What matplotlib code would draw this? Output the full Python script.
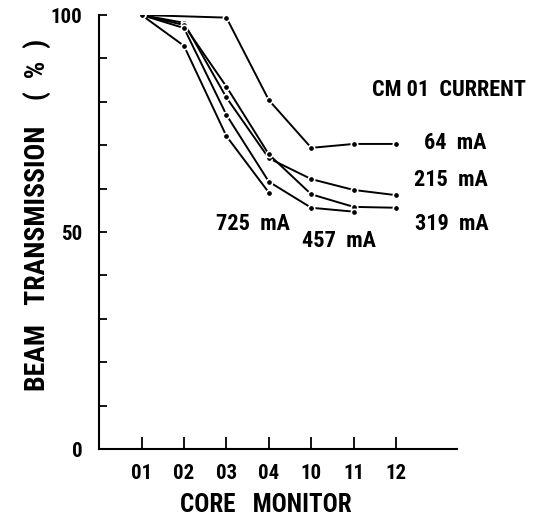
import os
import matplotlib.pyplot as plt
import matplotlib.font_manager as fm
import numpy as np

# the original lettering is a tall condensed bold face: pick the narrowest one installed
prefs = ["notosans-extracondensedbold", "robotocondensed-bold", "opensans-condbold",
         "liberationsansnarrow-bold", "notosans-condensedbold", "dejavusanscondensed-bold"]
files = {os.path.basename(f.fname).lower(): f.fname for f in fm.fontManager.ttflist}
narrow = None
for p in prefs:
    hit = [v for k, v in files.items() if k.startswith(p)]
    if hit:
        narrow = hit[0]
        break


def fp(size):
    if narrow:
        return fm.FontProperties(fname=narrow, size=size)
    return fm.FontProperties(family="DejaVu Sans", weight="bold", size=size * 0.75)


# core monitor stations along the x axis
monitors = ["01", "02", "03", "04", "10", "11", "12"]

# beam transmission (%) for each CM 01 current, None = not measured
t_64 = [100, None, 99.4, 80.4, 69.4, 70.3, 70.3]
t_215 = [100, 98.2, 81.0, 67.0, 62.2, 59.7, 58.5]
t_319 = [100, 97.7, 83.5, 67.9, 58.7, 55.8, 55.6]
t_457 = [100, 97.0, 77.0, 61.6, 55.6, 54.7, None]
t_725 = [100, 92.9, 72.1, 59.1, None, None, None]

series = [("64 mA", t_64), ("215 mA", t_215), ("319 mA", t_319),
          ("457 mA", t_457), ("725 mA", t_725)]

x = np.arange(1, len(monitors) + 1)

fig = plt.figure(figsize=(5.33, 5.18), dpi=100)
ax = fig.add_axes([0.186, 0.133, 0.671, 0.838])

for name, vals in series:
    xs = [xi for xi, v in zip(x, vals) if v is not None]
    ys = [v for v in vals if v is not None]
    ax.plot(xs, ys, color="black", lw=1.4, marker="o", ms=4.6,
            mfc="black", mec="white", mew=1.2, solid_capstyle="butt")

# curve labels
lab = dict(va="center", ha="left")
ax.text(7.65, 70.5, "64  mA", fontproperties=fp(16), **lab)
ax.text(7.42, 62.0, "215  mA", fontproperties=fp(16), **lab)
ax.text(7.44, 51.8, "319  mA", fontproperties=fp(16), **lab)
ax.text(4.77, 47.9, "457  mA", fontproperties=fp(16), **lab)
ax.text(2.75, 51.8, "725  mA", fontproperties=fp(16), **lab)
ax.text(6.42, 82.7, "CM 01  CURRENT", fontproperties=fp(16), **lab)

ax.set_xlim(0, 8.43)
ax.set_ylim(0, 100)
ax.set_xticks(x)
ax.set_xticklabels(monitors)
ax.set_yticks([0, 50, 100])
ax.set_yticks(np.arange(10, 100, 10), minor=True)

ax.spines["top"].set_visible(False)
ax.spines["right"].set_visible(False)
for s in ("left", "bottom"):
    ax.spines[s].set_linewidth(1.5)

ax.tick_params(axis="x", direction="in", length=9, width=1.3, pad=11)
ax.tick_params(axis="y", which="both", direction="in", length=6, width=1.3,
               pad=12)
for lbl in ax.get_xticklabels() + ax.get_yticklabels():
    lbl.set_fontproperties(fp(15))

ax.set_xlabel("CORE   MONITOR", fontproperties=fp(18))
ax.xaxis.set_label_coords(0.466, -0.1)
ax.set_ylabel("BEAM   TRANSMISSION    (  %  )", fontproperties=fp(20))
ax.yaxis.set_label_coords(-0.135, 0.54)

plt.savefig("out.png", dpi=100)
